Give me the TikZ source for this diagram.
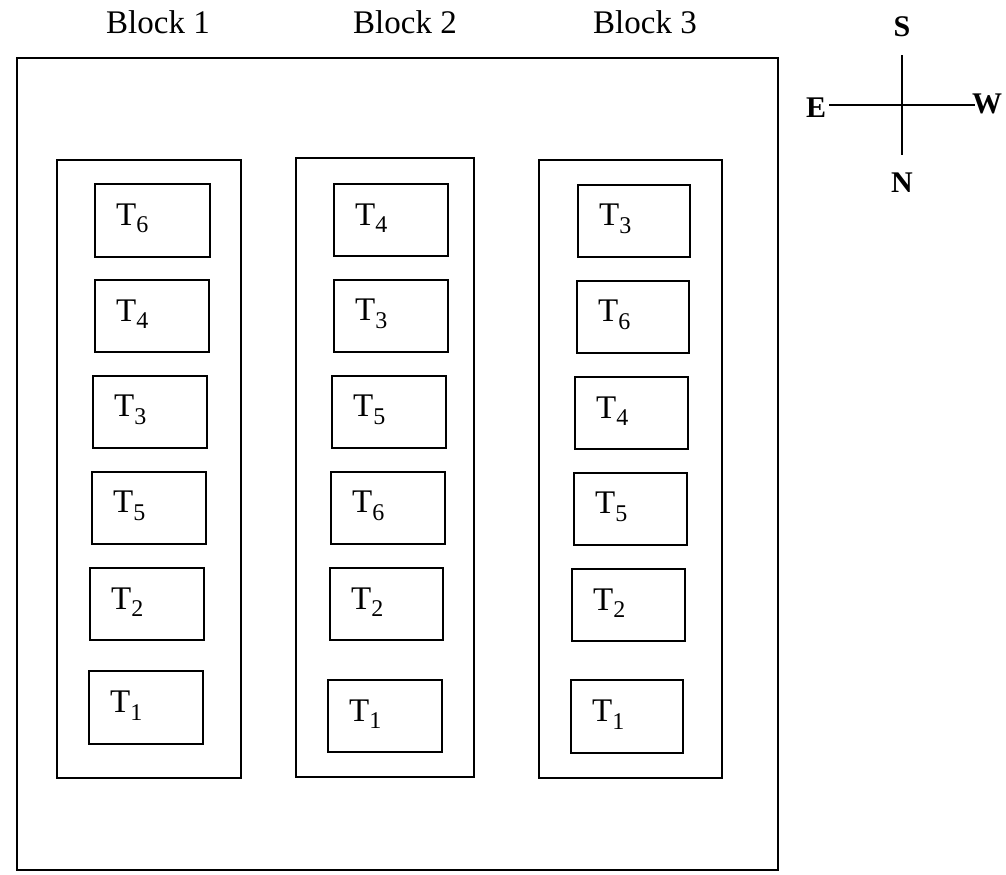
\documentclass[tikz,border=0pt]{standalone}
\usepackage{fontspec}
\setmainfont{Liberation Serif}
\usetikzlibrary{fit,calc}
\newcommand{\Tsub}[1]{T\raisebox{-0.5ex}{\fontsize{12}{12}\selectfont #1}}
\begin{document}
\begin{tikzpicture}[x=0.5pt,y=-0.5pt,
  frame/.style={draw,line width=1.3pt,inner sep=0pt},
  lab/.style={font=\fontsize{16.5}{18}\selectfont,inner sep=0pt,anchor=west},
  blk/.style={font=\fontsize{16.5}{18}\selectfont,inner sep=0pt},
  cmp/.style={font=\fontsize{15}{16}\selectfont\bfseries,inner sep=0pt}]
\useasboundingbox (0,0) rectangle (1006,874);
% outer field
\node[frame,fit={(17,58)(778,870)}] (field) {};
% block headers
\node[blk] (h1) at (158,22) {Block 1};
\node[blk] (h2) at (405,22) {Block 2};
\node[blk] (h3) at (645,22) {Block 3};
% block columns
\node[frame,fit={(57,160)(241,778)}] (col1) {};
\node[frame,fit={(296,158)(474,777)}] (col2) {};
\node[frame,fit={(539,160)(722,778)}] (col3) {};
% plots
\foreach \n/\l/\t/\r/\b/\s in {
  b1r1/95/184/210/257/6, b1r2/95/280/209/352/4, b1r3/93/376/207/448/3,
  b1r4/92/472/206/544/5, b1r5/90/568/204/640/2, b1r6/89/671/203/744/1,
  b2r1/334/184/448/256/4, b2r2/334/280/448/352/3, b2r3/332/376/446/448/5,
  b2r4/331/472/445/544/6, b2r5/330/568/443/640/2, b2r6/328/680/442/752/1,
  b3r1/578/185/690/257/3, b3r2/577/281/689/353/6, b3r3/575/377/688/449/4,
  b3r4/574/473/687/545/5, b3r5/572/569/685/641/2, b3r6/571/680/683/753/1}{
  \node[frame,fit={(\l,\t)(\r,\b)}] (\n) {};
  \node[lab] (\n-t) at ($(\n.west)+(22,-2)$) {\Tsub{\s}};
}
% compass
\coordinate (cS) at (902,55);
\coordinate (cN) at (902,155);
\coordinate (cE) at (829,105);
\coordinate (cW) at (975,105);
\draw[line width=1.4pt] (cS) -- (cN);
\draw[line width=1.4pt] (cE) -- (cW);
\node[cmp] (S) at (902,27) {S};
\node[cmp] (N) at (902,183) {N};
\node[cmp] (E) at (816,108) {E};
\node[cmp] (W) at (987,104) {W};
\end{tikzpicture}
\end{document}
